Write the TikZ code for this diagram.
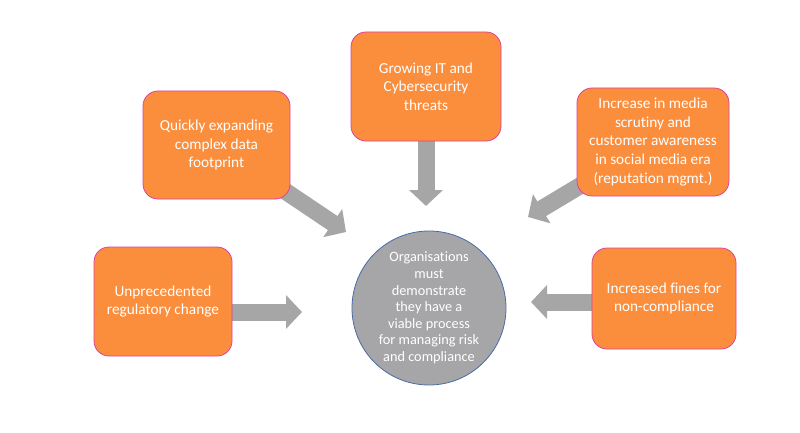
\documentclass[tikz,border=0pt]{standalone}
\usepackage{fontspec}
\setmainfont{Carlito}[Ligatures={NoCommon}]
\usetikzlibrary{arrows.meta,backgrounds}
\definecolor{boxorange}{HTML}{FB8E3C}
\definecolor{boxedge}{HTML}{E0409C}
\definecolor{hubgray}{HTML}{A6A6A9}
\definecolor{hubedge}{HTML}{4A6AA6}
\definecolor{arrowgray}{HTML}{A6A6A6}

\begin{document}
\begin{tikzpicture}[x=1pt,y=-1pt,
    driver/.style={draw=boxedge, line width=0.8pt, fill=boxorange, rounded corners=15pt,
        text=white, align=center, inner sep=2pt,
        font=\fontsize{15.3}{18.6}\selectfont},
    hub/.style={circle, draw=hubedge, line width=0.8pt, fill=hubgray, minimum size=154pt,
        inner sep=0pt, text=white, align=center,
        font=\fontsize{14.3}{16.6}\selectfont},
    blockarrow/.style={draw=arrowgray, line width=17pt,
        -{Triangle[length=16pt,width=33pt]}}]
        \useasboundingbox (0,0) rectangle (800,433);
        % Draw the hub
        \node[hub] (hub) at (429,308) {Organisations\\must\\demonstrate\\they have a\\viable process\\for managing risk\\and compliance};
        % Draw the drivers
        \node[driver, minimum width=147pt, minimum height=108pt] (expand) at (216.5,145) {Quickly expanding\\complex data\\footprint};
        \node[driver, minimum width=150pt, minimum height=109pt] (growing) at (426,86.5) {Growing IT and\\Cybersecurity\\threats};
        \node[driver, minimum width=152pt, minimum height=108pt] (media) at (653,142) {Increase in media\\scrutiny and\\customer awareness\\in social media era\\(reputation mgmt.)};
        \node[driver, minimum width=138pt, minimum height=109pt] (unprec) at (163,301.5) {Unprecedented\\regulatory change};
        \node[driver, minimum width=144pt, minimum height=101pt] (fines) at (664,298.5) {Increased fines for\\non-compliance};
        % Arrow tips in front of the hub
        \coordinate (tipexpand) at (346,232);
        \coordinate (tipgrowing) at (426,206);
        \coordinate (tipmedia) at (528,217);
        \coordinate (tipunprec) at (302,312);
        \coordinate (tipfines) at (531,302);
        % Draw block arrows behind the boxes
        \begin{scope}[on background layer]
            \draw[blockarrow] (expand.center) -- (tipexpand);
            \draw[blockarrow] (growing.center) -- (tipgrowing);
            \draw[blockarrow] (media.center) -- (tipmedia);
            \draw[blockarrow] (unprec.center |- tipunprec) -- (tipunprec);
            \draw[blockarrow] (fines.center |- tipfines) -- (tipfines);
        \end{scope}
\end{tikzpicture}
\end{document}
